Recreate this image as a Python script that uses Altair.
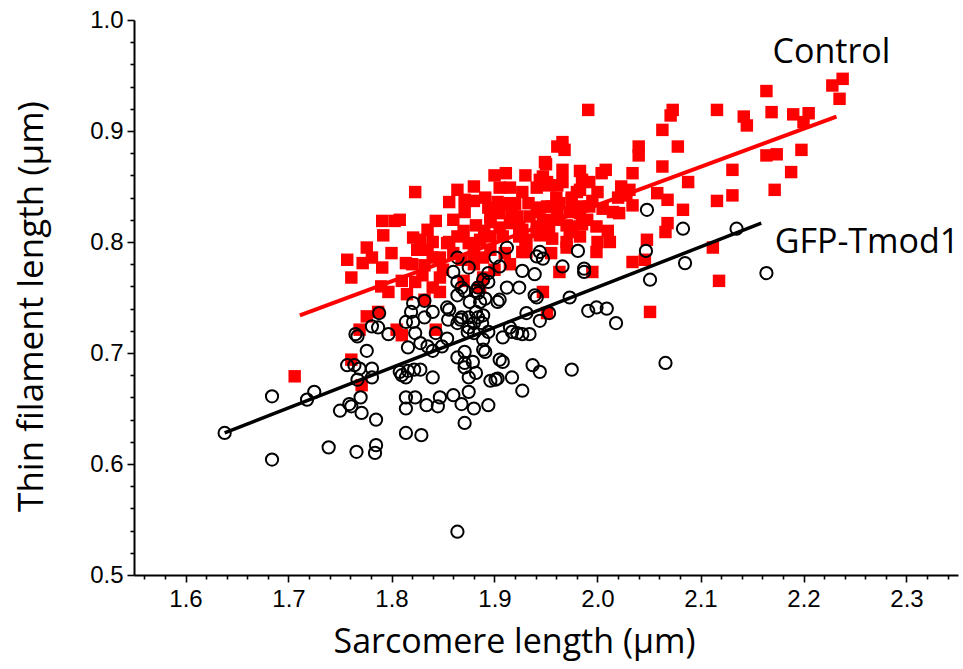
import altair as alt
import pandas as pd

# ---- Control (red squares) ----
ctrl_x = [1.706, 1.757, 1.761, 1.761, 1.771, 1.769, 1.772, 1.776, 1.776, 1.781, 1.787, 1.791, 1.791, 1.792,
          1.797, 1.803, 1.805, 1.808, 1.810, 1.814, 1.815, 1.821, 1.823, 1.823, 1.825, 1.828, 1.832, 1.832,
          1.835, 1.835, 1.840, 1.840, 1.843, 1.843, 1.847, 1.847, 1.847, 1.854, 1.856, 1.856, 1.864, 1.864,
          1.868, 1.871, 1.871, 1.875, 1.880, 1.880, 1.882, 1.886, 1.886, 1.889, 1.889, 1.891, 1.894, 1.896,
          1.896, 1.896, 1.896, 1.903, 1.905, 1.905, 1.905, 1.905, 1.908, 1.911, 1.915, 1.915, 1.915, 1.915,
          1.917, 1.920, 1.922, 1.924, 1.924, 1.927, 1.927, 1.927, 1.931, 1.931, 1.933, 1.934, 1.941, 1.941,
          1.941, 1.941, 1.944, 1.944, 1.944, 1.947, 1.947, 1.947, 1.949, 1.951, 1.951, 1.951, 1.953, 1.953,
          1.956, 1.956, 1.961, 1.961, 1.961, 1.961, 1.968, 1.966, 1.963, 1.963, 1.966, 1.966, 1.970, 1.970,
          1.973, 1.973, 1.975, 1.975, 1.975, 1.983, 1.983, 1.983, 1.983, 1.985, 1.985, 1.985, 1.991, 1.992,
          1.992, 1.995, 1.995, 1.999, 1.999, 2.004, 2.005, 2.008, 2.012, 2.015, 2.021, 2.023, 2.028, 2.031,
          2.034, 2.034, 2.034, 2.040, 2.040, 2.046, 2.048, 2.051, 2.058, 2.063, 2.063, 2.066, 2.068, 2.068,
          2.071, 2.073, 2.078, 2.083, 2.088, 2.112, 2.116, 2.116, 2.118, 2.131, 2.131, 2.142, 2.145, 2.164,
          2.164, 2.169, 2.172, 2.174, 2.188, 2.190, 2.198, 2.200, 2.205, 2.228, 2.235, 2.238,
          1.850, 1.860, 1.870, 1.880, 1.900, 1.910, 1.870, 1.830, 1.820, 1.840, 1.890, 1.930, 1.950, 1.960,
          1.980, 2.000, 1.990, 1.930, 1.950, 1.900, 1.880, 1.860, 1.800, 1.790, 1.810, 1.955, 1.970, 2.000,
          2.020, 2.010]
ctrl_y = [0.679, 0.784, 0.768, 0.694, 0.671, 0.721, 0.781, 0.795, 0.733, 0.786, 0.737, 0.777, 0.819, 0.806,
          0.755, 0.819, 0.721, 0.820, 0.716, 0.781, 0.753, 0.804, 0.764, 0.845, 0.793, 0.802, 0.779, 0.748,
          0.793, 0.811, 0.786, 0.759, 0.819, 0.721, 0.786, 0.768, 0.755, 0.799, 0.836, 0.800, 0.847, 0.805,
          0.784, 0.838, 0.827, 0.799, 0.837, 0.791, 0.815, 0.802, 0.759, 0.786, 0.768, 0.840, 0.831, 0.823,
          0.818, 0.805, 0.793, 0.836, 0.849, 0.834, 0.826, 0.813, 0.805, 0.862, 0.849, 0.835, 0.817, 0.780,
          0.826, 0.834, 0.823, 0.814, 0.805, 0.845, 0.811, 0.791, 0.802, 0.791, 0.835, 0.823, 0.849, 0.827,
          0.814, 0.809, 0.856, 0.831, 0.806, 0.859, 0.755, 0.817, 0.872, 0.854, 0.832, 0.736, 0.851, 0.813,
          0.832, 0.803, 0.851, 0.826, 0.820, 0.886, 0.883, 0.890, 0.835, 0.773, 0.865, 0.854, 0.815, 0.795,
          0.827, 0.809, 0.838, 0.840, 0.814, 0.864, 0.847, 0.826, 0.805, 0.856, 0.832, 0.816, 0.919, 0.854,
          0.832, 0.837, 0.773, 0.814, 0.791, 0.862, 0.830, 0.865, 0.800, 0.827, 0.826, 0.850, 0.842, 0.847,
          0.862, 0.833, 0.782, 0.886, 0.878, 0.784, 0.802, 0.737, 0.844, 0.901, 0.868, 0.809, 0.838, 0.817,
          0.914, 0.919, 0.886, 0.829, 0.854, 0.795, 0.919, 0.837, 0.765, 0.865, 0.842, 0.913, 0.905, 0.936,
          0.878, 0.917, 0.847, 0.879, 0.863, 0.915, 0.883, 0.908, 0.916, 0.941, 0.929, 0.947,
          0.775, 0.790, 0.765, 0.780, 0.775, 0.790, 0.810, 0.770, 0.780, 0.800, 0.810, 0.800, 0.820, 0.840,
          0.845, 0.845, 0.820, 0.860, 0.870, 0.860, 0.850, 0.820, 0.790, 0.760, 0.765, 0.790, 0.800, 0.800,
          0.840, 0.810]

# ---- GFP-Tmod1 (black open circles) ----
gfp_x = [1.638, 1.684, 1.684, 1.718, 1.725, 1.739, 1.750, 1.759, 1.761, 1.770, 1.771, 1.766, 1.785, 1.785,
         1.784, 1.765, 1.767, 1.776, 1.757, 1.764, 1.769, 1.767, 1.781, 1.781, 1.781, 1.787, 1.788, 1.797,
         1.808, 1.810, 1.814, 1.816, 1.822, 1.828, 1.840, 1.814, 1.814, 1.823, 1.834, 1.845, 1.847, 1.860,
         1.868, 1.880, 1.871, 1.814, 1.829, 1.864, 1.816, 1.823, 1.828, 1.840, 1.849, 1.854, 1.864, 1.871,
         1.871, 1.879, 1.875, 1.875, 1.814, 1.819, 1.821, 1.840, 1.854, 1.856, 1.867, 1.874, 1.880, 1.860,
         1.864, 1.875, 1.864, 1.876, 1.882, 1.864, 1.821, 1.832, 1.835, 1.882, 1.891, 1.901, 1.896, 1.905,
         1.889, 1.894, 1.864, 1.868, 1.875, 1.880, 1.875, 1.868, 1.882, 1.886, 1.891, 1.884, 1.889, 1.903,
         2.048, 2.083, 2.135, 2.047, 2.085, 2.051, 2.066, 1.975, 1.973, 1.944, 1.947, 1.941, 1.981, 1.966,
         1.987, 1.987, 1.912, 1.901, 1.905, 1.894, 1.889, 1.927, 1.939, 1.924, 1.912, 1.905, 1.939, 1.941,
         1.931, 1.944, 1.953, 1.991, 1.999, 2.009, 2.018, 1.908, 1.917, 1.915, 1.922, 1.927, 1.934, 1.889,
         1.908, 1.927, 1.917, 1.903, 1.894, 1.937, 1.944, 1.884, 1.888, 1.855, 1.843, 1.871, 1.871, 1.894,
         1.884, 1.832, 2.164]
gfp_y = [0.628, 0.661, 0.604, 0.658, 0.665, 0.615, 0.648, 0.654, 0.652, 0.660, 0.646, 0.611, 0.640, 0.617,
         0.610, 0.717, 0.715, 0.702, 0.689, 0.689, 0.686, 0.676, 0.686, 0.678, 0.724, 0.723, 0.736, 0.717,
         0.683, 0.680, 0.678, 0.684, 0.685, 0.685, 0.678, 0.660, 0.650, 0.660, 0.653, 0.652, 0.660, 0.662,
         0.654, 0.650, 0.637, 0.628, 0.626, 0.539, 0.705, 0.718, 0.709, 0.702, 0.706, 0.713, 0.696, 0.701,
         0.691, 0.692, 0.678, 0.665, 0.728, 0.737, 0.745, 0.737, 0.741, 0.739, 0.730, 0.719, 0.718, 0.773,
         0.764, 0.777, 0.752, 0.746, 0.756, 0.786, 0.728, 0.732, 0.706, 0.682, 0.701, 0.676, 0.675, 0.694,
         0.712, 0.719, 0.727, 0.732, 0.732, 0.727, 0.723, 0.759, 0.737, 0.746, 0.749, 0.754, 0.734, 0.746,
         0.829, 0.812, 0.812, 0.792, 0.781, 0.766, 0.691, 0.685, 0.750, 0.791, 0.785, 0.787, 0.792, 0.778,
         0.776, 0.773, 0.795, 0.786, 0.778, 0.772, 0.766, 0.774, 0.771, 0.759, 0.759, 0.748, 0.752, 0.750,
         0.736, 0.729, 0.736, 0.738, 0.741, 0.740, 0.727, 0.714, 0.719, 0.723, 0.718, 0.717, 0.717, 0.703,
         0.692, 0.666, 0.678, 0.677, 0.653, 0.689, 0.683, 0.732, 0.727, 0.730, 0.718, 0.687, 0.756, 0.764,
         0.759, 0.747, 0.772]

# ---- fitted regression lines (end points) ----
ctrl_fit_x = [1.711, 2.232]
ctrl_fit_y = [0.734, 0.913]
gfp_fit_x = [1.638, 2.159]
gfp_fit_y = [0.628, 0.817]

# ---- annotations ----
label_text = ["Control", "GFP-Tmod1"]
label_x = [2.170, 2.172]
label_y = [0.961, 0.790]

# ---- ticks ----
x_tick_values = [round(1.56 + 0.02 * i, 2) for i in range(40)]
y_tick_values = [round(0.50 + 0.02 * i, 2) for i in range(26)]

ctrl = pd.DataFrame({"x": ctrl_x, "y": ctrl_y})
gfp = pd.DataFrame({"x": gfp_x, "y": gfp_y})
ctrl_fit = pd.DataFrame({"x": ctrl_fit_x, "y": ctrl_fit_y})
gfp_fit = pd.DataFrame({"x": gfp_fit_x, "y": gfp_fit_y})
labels = pd.DataFrame({"t": label_text, "x": label_x, "y": label_y})

major_test = "abs(datum.value*10 - round(datum.value*10)) < 0.001"
label_expr = f"{major_test} ? format(datum.value, '.1f') : ''"

xscale = alt.Scale(domain=[1.55, 2.35], nice=False, zero=False)
yscale = alt.Scale(domain=[0.5, 1.0], nice=False, zero=False)

xaxis = alt.Axis(
    values=x_tick_values, labelExpr=label_expr, labelOverlap=False, labelBound=False,
    tickSize={"condition": {"test": major_test, "value": 7}, "value": 4},
    tickWidth=1.6, tickColor="black", domainColor="black", domainWidth=2,
    labelFont="Liberation Sans", labelFontSize=24, labelColor="black", labelPadding=5,
    title="Sarcomere length (μm)", titleFont="Open Sans", titleFontSize=34,
    titleFontWeight="normal", titleColor="black",
    titleX=380, titleY=77, titleBaseline="alphabetic", titleAlign="center", grid=False,
)
yaxis = alt.Axis(
    values=y_tick_values, labelExpr=label_expr, labelOverlap=False, labelBound=False,
    tickSize={"condition": {"test": major_test, "value": 7}, "value": 4},
    tickWidth=1.6, tickColor="black", domainColor="black", domainWidth=2,
    labelFont="Liberation Sans", labelFontSize=24, labelColor="black", labelPadding=4,
    title="Thin filament length (μm)", titleFont="Open Sans", titleFontSize=35,
    titleFontWeight="normal", titleColor="black", titleAngle=270,
    titleX=-92, titleY=286, titleBaseline="alphabetic", titleAlign="center", grid=False,
)

X = alt.X("x:Q", scale=xscale, axis=xaxis)
Y = alt.Y("y:Q", scale=yscale, axis=yaxis)

red_pts = alt.Chart(ctrl).mark_square(filled=True, color="#ff0000", size=155, opacity=1).encode(x=X, y=Y)
black_pts = alt.Chart(gfp).mark_point(shape="circle", filled=False, stroke="black",
                                       strokeWidth=2, size=150, opacity=1).encode(x=X, y=Y)
red_line = alt.Chart(ctrl_fit).mark_line(color="#ff0000", strokeWidth=4).encode(x=X, y=Y)
black_line = alt.Chart(gfp_fit).mark_line(color="black", strokeWidth=3.5).encode(x=X, y=Y)
texts = alt.Chart(labels).mark_text(align="left", baseline="alphabetic", font="Open Sans",
                                    fontSize=34, color="black").encode(x=X, y=Y, text="t:N")

chart = alt.layer(red_pts, black_pts, red_line, black_line, texts).properties(
    width=824, height=555,
    autosize=alt.AutoSizeParams(type="none"),
    padding={"left": 134, "top": 20, "right": 5, "bottom": 94},
    background="white",
).configure_view(stroke=None)

chart.save("out.html", embed_options={"renderer": "svg", "actions": False})
